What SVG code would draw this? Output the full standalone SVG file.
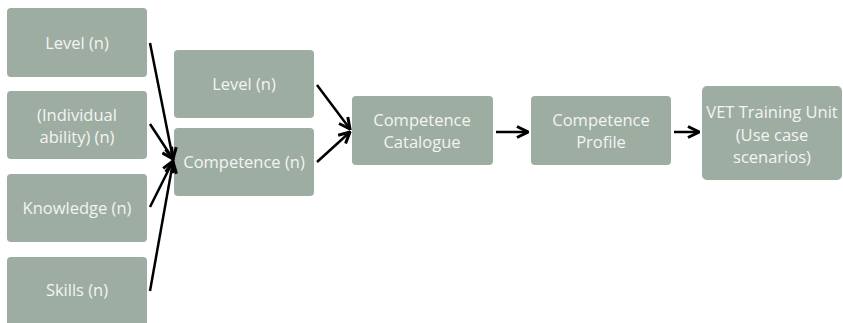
<svg xmlns="http://www.w3.org/2000/svg" width="843" height="323" viewBox="0 0 843 323">
<defs>
<style>
.box{fill:#9dada2;}
.t{font-family:"Open Sans","Liberation Sans",sans-serif;font-size:16.5px;fill:#f4f4f2;text-anchor:middle;}
.c{stroke:#000;stroke-width:2.5;fill:none;}
</style>
<marker id="ah" viewBox="0 0 10 10" refX="9" refY="5" markerWidth="5.5" markerHeight="5.5" orient="auto" markerUnits="strokeWidth">
<path d="M1,1 L9,5 L1,9" fill="none" stroke="#000" stroke-width="2.2"/>
</marker>
</defs>
<rect width="843" height="323" fill="#fff"/>
<g id="level1"><rect class="box" x="7" y="8" width="140" height="69" rx="4"/><text class="t" x="77" y="49">Level (n)</text></g>
<g id="ability"><rect class="box" x="7" y="91" width="140" height="68" rx="4"/><text class="t" x="77" y="121">(Individual</text><text class="t" x="77" y="143">ability) (n)</text></g>
<g id="knowledge"><rect class="box" x="7" y="174" width="140" height="68" rx="4"/><text class="t" x="77" y="214">Knowledge (n)</text></g>
<g id="skills"><rect class="box" x="7" y="257" width="140" height="70" rx="4"/><text class="t" x="77" y="296">Skills (n)</text></g>
<g id="level2"><rect class="box" x="174" y="50" width="140" height="68" rx="4"/><text class="t" x="244" y="90">Level (n)</text></g>
<g id="competence"><rect class="box" x="174" y="128" width="140" height="68" rx="4"/><text class="t" x="244" y="168">Competence (n)</text></g>
<g id="catalogue"><rect class="box" x="352" y="96" width="141" height="69" rx="4"/><text class="t" x="422" y="126">Competence</text><text class="t" x="422" y="148">Catalogue</text></g>
<g id="profile"><rect class="box" x="531" y="96" width="140" height="69" rx="4"/><text class="t" x="601" y="126">Competence</text><text class="t" x="601" y="148">Profile</text></g>
<g id="vet"><rect class="box" x="702" y="86" width="140" height="94" rx="5"/><text class="t" x="772" y="118">VET Training Unit</text><text class="t" x="772" y="141">(Use case</text><text class="t" x="772" y="163">scenarios)</text></g>
<g id="connectors">
<line class="c" x1="150" y1="43" x2="173" y2="159" marker-end="url(#ah)"/>
<line class="c" x1="150" y1="124" x2="173" y2="159" marker-end="url(#ah)"/>
<line class="c" x1="150" y1="207" x2="173" y2="161" marker-end="url(#ah)"/>
<line class="c" x1="150" y1="291" x2="173" y2="162" marker-end="url(#ah)"/>
<line class="c" x1="317" y1="85" x2="350" y2="129" marker-end="url(#ah)"/>
<line class="c" x1="317" y1="162" x2="350" y2="132" marker-end="url(#ah)"/>
<line class="c" x1="496" y1="132" x2="528" y2="132" marker-end="url(#ah)"/>
<line class="c" x1="674" y1="132" x2="699" y2="132" marker-end="url(#ah)"/>
</g>
</svg>
